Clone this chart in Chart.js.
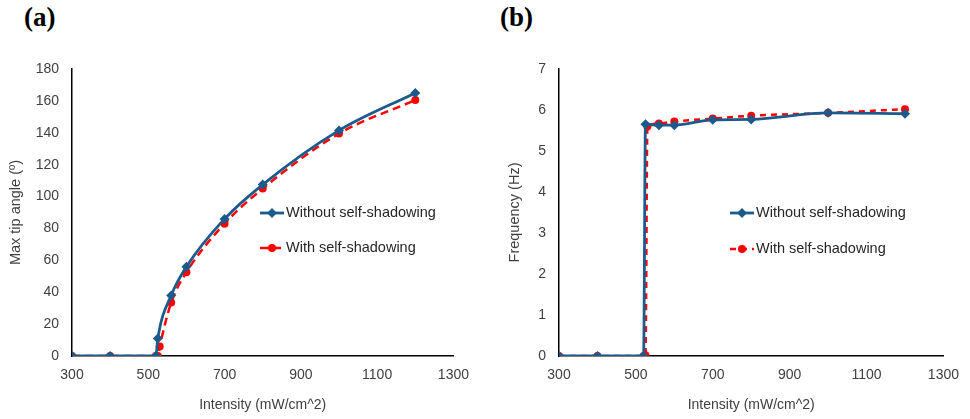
<!DOCTYPE html>
<html>
<head>
<meta charset="utf-8">
<script src="https://cdn.jsdelivr.net/npm/chart.js@4"></script>
<style>
  body { margin: 0; background: #fff; }
  #wrap { position: relative; width: 970px; height: 419px; overflow: hidden; }
  .panel-label { position: absolute; top: 2px; font-family: "Liberation Serif", serif; font-weight: bold; font-size: 27px; color: #000; }
  canvas { position: absolute; top: 0; }
</style>
</head>
<body>
<div id="wrap">
  <div class="panel-label" style="left:24px">(a)</div>
  <div class="panel-label" style="left:500px">(b)</div>
  <canvas id="chartA" width="480" height="419" style="left:0"></canvas>
  <canvas id="chartB" width="490" height="419" style="left:480px"></canvas>
</div>
<script>
// intensity values (mW/cm^2)
const intensityBlue = [300, 400, 520, 525, 560, 600, 700, 800, 1000, 1200]
const intensityRed = [300, 400, 520, 525, 530, 560, 600, 700, 800, 1000, 1200]

// panel (a) max tip angle
const tipBlue = [0, 0, 0, 11, 38, 56, 86, 107.5, 141.5, 165]
const tipRed = [0, 0, 0, 0, 6, 33.5, 52.5, 83, 105, 139.5, 160.5]

// panel (b) frequency
const freqBlue = [0, 0, 0, 5.65, 5.63, 5.63, 5.76, 5.77, 5.93, 5.91]
const freqRed = [0, 0, 0, 0.02, 5.6, 5.67, 5.72, 5.79, 5.86, 5.93, 6.02]

const seriesNames = ['Without self-shadowing', 'With self-shadowing']
const xTicks = { min: 300, max: 1300, step: 200 }

const BLUE = '#1b5a8a'
const RED = '#ff0000'
const FONT = '"Liberation Sans", Arial, sans-serif'

function toPoints(xs, ys) {
    return xs.map(function (x, i) { return { x: x, y: ys[i] } })
}

// draws the Excel style legend (line sample + marker + text)
const lineLegend = {
    id: 'lineLegend',
    afterDraw(chart, args, opts) {
        const ctx = chart.ctx
        chart.data.datasets.forEach(function (ds, i) {
            const y = opts.y + i * opts.gap
            ctx.save()
            ctx.strokeStyle = ds.borderColor
            ctx.lineWidth = ds.borderWidth
            ctx.setLineDash(ds.borderDash || [])
            ctx.beginPath()
            ctx.moveTo(opts.x, y)
            ctx.lineTo(opts.x + 24, y)
            ctx.stroke()
            ctx.setLineDash([])
            ctx.fillStyle = ds.pointBackgroundColor
            ctx.beginPath()
            const r = ds.pointRadius
            if (ds.pointStyle === 'rectRot') {
                ctx.moveTo(opts.x + 12, y - r)
                ctx.lineTo(opts.x + 12 + r, y)
                ctx.lineTo(opts.x + 12, y + r)
                ctx.lineTo(opts.x + 12 - r, y)
                ctx.closePath()
            } else {
                ctx.arc(opts.x + 12, y, r, 0, Math.PI * 2)
            }
            ctx.fill()
            ctx.fillStyle = '#262626'
            ctx.font = '14.5px ' + FONT
            ctx.textBaseline = 'middle'
            ctx.fillText(ds.label, opts.x + 26, y)
            ctx.restore()
        })
    }
}

function makeChart(id, blueY, redY, yMax, yStep, yTitle, cfg) {
    return new Chart(document.getElementById(id), {
        type: 'line',
        data: {
            datasets: [{
                label: seriesNames[0],
                data: toPoints(intensityBlue, blueY),
                borderColor: BLUE,
                backgroundColor: BLUE,
                pointBackgroundColor: BLUE,
                pointBorderWidth: 0,
                pointStyle: 'rectRot',
                pointRadius: 5,
                borderWidth: 2.8,
                cubicInterpolationMode: 'monotone'
            }, {
                label: seriesNames[1],
                data: toPoints(intensityRed, redY),
                borderColor: RED,
                backgroundColor: RED,
                pointBackgroundColor: RED,
                pointBorderWidth: 0,
                pointStyle: 'circle',
                pointRadius: 4,
                borderWidth: 2.5,
                borderDash: cfg.dash,
                cubicInterpolationMode: 'monotone'
            }]
        },
        options: {
            responsive: false,
            animation: false,
            devicePixelRatio: 1,
            layout: { padding: { left: 0, top: 69, right: cfg.right, bottom: 0 } },
            plugins: {
                legend: { display: false },
                tooltip: { enabled: false },
                lineLegend: cfg.legend
            },
            scales: {
                x: {
                    type: 'linear',
                    min: xTicks.min,
                    max: xTicks.max,
                    ticks: {
                        stepSize: xTicks.step, color: '#404040', font: { family: FONT, size: 14 }, padding: 11, maxRotation: 0,
                        callback: function (v) { return String(v) }
                    },
                    grid: { display: false, drawTicks: false },
                    border: { display: true, color: '#000', width: 1.5 },
                    title: { display: true, text: 'Intensity (mW/cm^2)', color: '#404040', font: { family: FONT, size: 14 }, padding: { top: 0, bottom: 5 } },
                    afterFit: function (scale) { scale.height = 63 }
                },
                y: {
                    min: 0,
                    max: yMax,
                    ticks: { stepSize: yStep, color: '#404040', font: { family: FONT, size: 14 }, padding: 13 },
                    grid: { display: false, drawTicks: false },
                    border: { display: true, color: '#000', width: 1.5 },
                    title: { display: true, text: yTitle, color: '#404040', font: { family: FONT, size: 14.5 }, padding: { top: cfg.titlePad, bottom: 0 } },
                    afterFit: function (scale) { scale.width = cfg.left }
                }
            }
        },
        plugins: [lineLegend]
    })
}

makeChart('chartA', tipBlue, tipRed, 180, 20, 'Max tip angle (º)', {
    left: 72, right: 17, titlePad: 7, dash: [8, 5],
    legend: { x: 260, y: 213, gap: 35 }
})
makeChart('chartB', freqBlue, freqRed, 7, 1, 'Frequency (Hz)', {
    left: 79, right: 20, titlePad: 26, dash: [6, 5],
    legend: { x: 250, y: 213, gap: 36 }
})
</script>
</body>
</html>
